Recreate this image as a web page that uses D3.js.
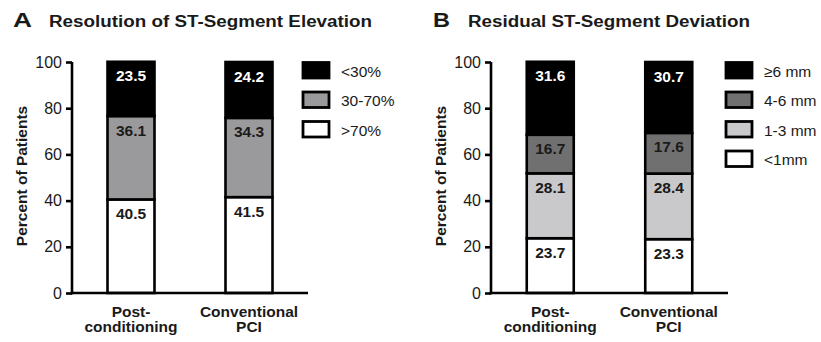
<!DOCTYPE html>
<html>
<head>
<meta charset="utf-8">
<script src="https://cdn.jsdelivr.net/npm/d3@7/dist/d3.min.js"></script>
<style>
  html, body { margin: 0; padding: 0; background: #fff; }
  svg { display: block; font-family: "Liberation Sans", Arial, sans-serif; }
</style>
</head>
<body>
<svg id="chart" width="821" height="342"></svg>
<script>
// Group labels (one entry per line of text under each bar)
const categories = ["Post-conditioning", "Conventional PCI"];
const categoryLines = [["Post-", "conditioning"], ["Conventional", "PCI"]];
const yTicks = [0, 20, 40, 60, 80, 100];

// Panel A: resolution of ST-segment elevation (stacked bottom to top)
const resolutionKeys = [">70%", "30-70%", "<30%"];
const resolutionGt70 = [40.5, 41.5];
const resolution30to70 = [36.1, 34.3];
const resolutionLt30 = [23.5, 24.2];

// Panel B: residual ST-segment deviation (stacked bottom to top)
const deviationKeys = ["<1mm", "1-3 mm", "4-6 mm", "≥6 mm"];
const deviationLt1 = [23.7, 23.3];
const deviation1to3 = [28.1, 28.4];
const deviation4to6 = [16.7, 17.6];
const deviationGe6 = [31.6, 30.7];

const svg = d3.select("#chart");
const TEXT = "#1a1a1a";

function drawPanel(opts) {
  const g = svg.append("g").attr("transform", `translate(${opts.x0},0)`);

  // panel letter + title (wide bold face)
  g.append("text").attr("x", opts.letterX).attr("y", 26.7)
    .attr("font-size", 19.5).attr("font-weight", "bold").attr("fill", TEXT)
    .attr("textLength", opts.letterW).attr("lengthAdjust", "spacingAndGlyphs")
    .text(opts.letter);
  g.append("text").attr("x", opts.titleX).attr("y", 26.7)
    .attr("font-size", 16.8).attr("font-weight", "bold").attr("fill", TEXT)
    .attr("textLength", opts.titleW).attr("lengthAdjust", "spacingAndGlyphs")
    .text(opts.title);

  const axisLeft = 72, axisRight = opts.axisRight;
  const y = d3.scaleLinear().domain([0, 100]).range([293, 62]);
  const x = d3.scalePoint().domain(categories).range([axisLeft, axisRight]).padding(0.5);
  const barW = 47;

  // stack the series
  const rows = categories.map((c, i) => {
    const r = { cat: c };
    opts.keys.forEach((k, j) => { r[k] = opts.series[j][i]; });
    return r;
  });
  const stacked = d3.stack().keys(opts.keys)(rows);

  const layers = g.selectAll("g.layer").data(stacked).join("g").attr("class", "layer");
  layers.each(function (layer, li) {
    const lg = d3.select(this);
    lg.selectAll("rect").data(layer).join("rect")
      .attr("x", d => x(d.data.cat) - barW / 2)
      .attr("y", d => y(d[1]))
      .attr("width", barW)
      .attr("height", d => y(d[0]) - y(d[1]))
      .attr("fill", opts.colors[li])
      .attr("stroke", "#000")
      .attr("stroke-width", 2.6);
    lg.selectAll("text").data(layer).join("text")
      .attr("x", d => x(d.data.cat))
      .attr("y", d => y(d[1]) + 19.5)
      .attr("text-anchor", "middle")
      .attr("font-size", 15.5).attr("font-weight", "bold")
      .attr("fill", opts.textColors[li])
      .text(d => d3.format(".1f")(d[1] - d[0]));
  });

  // y axis
  const yAxis = g.append("g").attr("transform", `translate(${axisLeft},0)`)
    .call(d3.axisLeft(y).tickValues(yTicks).tickSize(6).tickPadding(4));
  yAxis.select(".domain").attr("d", `M0,${y(100)}V${y(0) + 1.3}`)
    .attr("stroke", "#000").attr("stroke-width", 2.6);
  yAxis.selectAll(".tick line").attr("stroke", "#000").attr("stroke-width", 2.6);
  yAxis.selectAll(".tick text").attr("font-size", 16).attr("fill", TEXT)
    .attr("font-family", "Liberation Sans, Arial, sans-serif");

  // x axis baseline (no ticks)
  g.append("line").attr("x1", axisLeft - 1.3).attr("x2", axisRight)
    .attr("y1", y(0)).attr("y2", y(0))
    .attr("stroke", "#000").attr("stroke-width", 2.6);

  // category labels
  categories.forEach((c, i) => {
    const t = g.append("text").attr("x", x(c)).attr("y", 316.5)
      .attr("text-anchor", "middle").attr("font-size", 15.5)
      .attr("font-weight", "bold").attr("fill", TEXT);
    categoryLines[i].forEach((line, k) => {
      t.append("tspan").attr("x", x(c)).attr("dy", k === 0 ? 0 : 15.5).text(line);
    });
  });

  // y axis title
  g.append("text")
    .attr("transform", `translate(${opts.yTitleX},176) rotate(-90)`)
    .attr("text-anchor", "middle").attr("font-size", 15.5).attr("font-weight", "bold")
    .attr("fill", TEXT).text("Percent of Patients");

  // legend (top item = top of the stack)
  const legendItems = opts.keys.map((k, i) => ({ key: k, color: opts.colors[i] })).reverse();
  const lg = g.append("g").attr("transform", `translate(${opts.legendX},0)`);
  legendItems.forEach((d, i) => {
    const top = 62.5 + i * 29.5;
    lg.append("rect").attr("x", 0).attr("y", top).attr("width", 26).attr("height", 15.5)
      .attr("fill", d.color).attr("stroke", "#000").attr("stroke-width", 2.8);
    lg.append("text").attr("x", 38).attr("y", top + 14)
      .attr("font-size", 15.5).attr("fill", TEXT).text(d.key);
  });
}

drawPanel({
  x0: 0, letter: "A", letterX: 13, letterW: 19, titleX: 49, titleW: 323,
  title: "Resolution of ST-Segment Elevation",
  axisRight: 308, yTitleX: 26.5, legendX: 303,
  keys: resolutionKeys,
  series: [resolutionGt70, resolution30to70, resolutionLt30],
  colors: ["#ffffff", "#9a9a9c", "#000000"],
  textColors: [TEXT, TEXT, "#ffffff"]
});

drawPanel({
  x0: 419, letter: "B", letterX: 14, letterW: 17, titleX: 49, titleW: 282,
  title: "Residual ST-Segment Deviation",
  axisRight: 309, yTitleX: 26.5, legendX: 307,
  keys: deviationKeys,
  series: [deviationLt1, deviation1to3, deviation4to6, deviationGe6],
  colors: ["#ffffff", "#c9c9cb", "#707070", "#000000"],
  textColors: [TEXT, TEXT, TEXT, "#ffffff"]
});
</script>
</body>
</html>
